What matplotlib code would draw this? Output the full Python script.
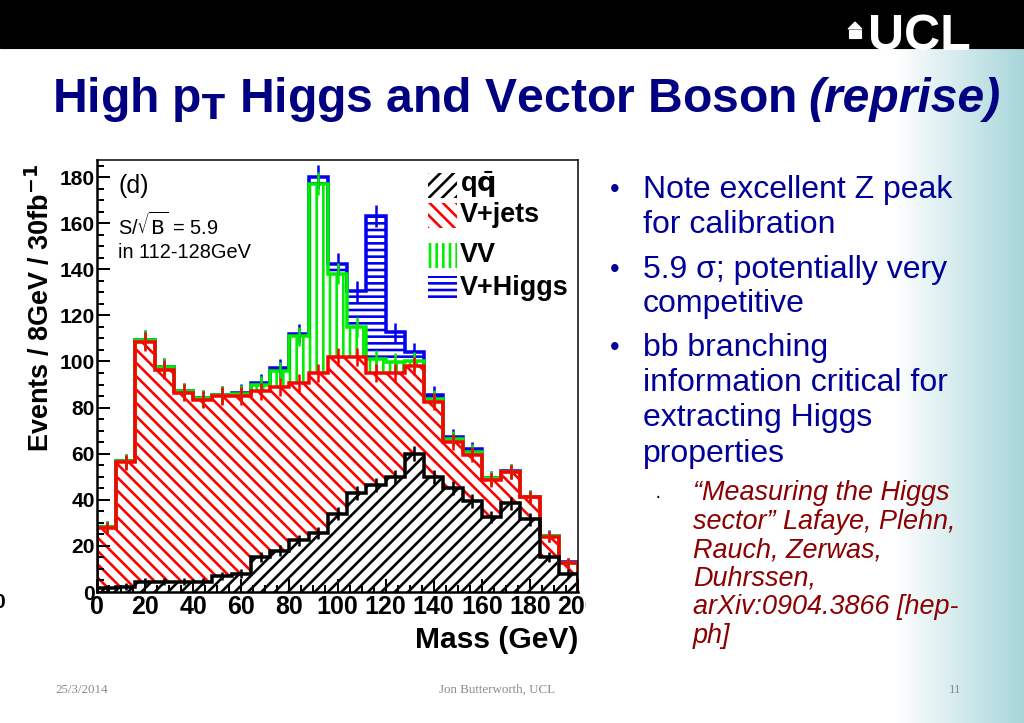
import numpy as np
import matplotlib
matplotlib.use("Agg")
import matplotlib.pyplot as plt
from matplotlib.patches import Rectangle, Polygon
from matplotlib.transforms import Bbox, TransformedBbox, IdentityTransform, blended_transform_factory

DPI = 80
W, H = 1024, 723


def pt(px):
    # pixel size -> points at this dpi
    return px * 72.0 / DPI


# histogram data, 8 GeV bins from 0 to 200 GeV
edges = np.arange(0, 201, 8)
qq = [1.7, 2.3, 4.5, 4.5, 4.5, 4.5, 7, 8, 15, 18, 22.5, 25.5, 34,
      43, 46.5, 50, 60, 50, 45, 39.5, 32.5, 38.5, 31.5, 15, 8]
vjets = [26, 54, 104, 92, 82, 79, 78, 77, 72, 71, 68, 69.5, 68,
         59, 48.5, 45, 38, 32.5, 20, 20, 16, 13.5, 9.5, 9, 4.6]
vv = [0.5, 0.5, 1, 1, 0.5, 0.5, 0.5, 1, 3, 7, 20.5, 82, 36,
      13, 6, 4.6, 2, 1.4, 1.5, 1.4, 0.8, 0.2, 0.2, 0.2, 0.1]
vh = [0, 0, 0, 0, 0, 0, 0, 0.5, 0.5, 1, 1, 3, 4.3,
      15.4, 62, 13, 4, 1.6, 0.9, 1, 0.2, 0.1, 0.1, 0.1, 0.1]
names = ["q$\\bar{\\mathbf{q}}$", "V+jets", "VV", "V+Higgs"]
colors = ["black", "#ff0000", "#00ee00", "#0000ee"]
hatches = ["//", "\\\\", "||", "--"]

bullets = [("Note excellent Z peak", 190, True), ("for calibration", 225, False),
           ("5.9 σ; potentially very", 270, True), ("competitive", 304, False),
           ("bb branching", 348, True), ("information critical for", 383, False),
           ("extracting Higgs", 418, False), ("properties", 454, False)]
refs = ["\u201cMeasuring the Higgs", "sector\u201d Lafaye, Plehn,", "Rauch, Zerwas,",
        "Duhrssen,", "arXiv:0904.3866 [hep-", "ph]"]

plt.rcParams['font.family'] = ['Liberation Sans', 'DejaVu Sans']
plt.rcParams['hatch.linewidth'] = pt(2.6)

fig = plt.figure(figsize=(W / DPI, H / DPI), dpi=DPI)

# slide background
bg = fig.add_axes([0, 0, 1, 1], zorder=0)
bg.set_xlim(0, W)
bg.set_ylim(H, 0)
bg.axis('off')
g = np.linspace(0, 1, 200)
teal = np.array([168, 214, 219]) / 255.0
img = (1 - g)[:, None] * np.ones(3) + g[:, None] * teal
bg.imshow(img[None, :, :], extent=[895, 1024, 723, 48], aspect='auto')
bg.add_patch(Rectangle((0, 0), W, 48, color='black'))

# stacked histogram
ax = fig.add_axes([97 / W, 1 - 592 / H, 481 / W, 432 / H], zorder=2)
stack = np.cumsum([qq, vjets, vv, vh], axis=0)
centers = 0.5 * (edges[1:] + edges[:-1])

for i in [3, 2, 1, 0]:
    ax.stairs(stack[i], edges, baseline=0, fill=True, facecolor='white',
              edgecolor=colors[i], hatch=hatches[i], linewidth=0)
for i in [3, 2, 1, 0]:
    ax.stairs(stack[i], edges, baseline=0, fill=False, color=colors[i], linewidth=pt(3.5))
for i in [3, 2, 1, 0]:
    err = 0.3 * np.sqrt(stack[i]) + 1
    ax.errorbar(centers, stack[i], yerr=err, fmt='none', ecolor=colors[i],
                elinewidth=pt(2.5), capsize=0)

ax.set_xlim(0, 200)
ax.set_ylim(0, 187.4)
ax.set_xticks(np.arange(0, 201, 20))
ax.set_xticks(np.arange(0, 201, 5), minor=True)
ax.set_yticks(np.arange(0, 181, 20))
ax.set_yticks(np.arange(0, 186, 5), minor=True)
ax.tick_params(direction='in', which='both', width=pt(2), top=False, right=False)
ax.tick_params(which='major', length=pt(13))
ax.tick_params(which='minor', length=pt(7))
ax.tick_params(axis='x', labelsize=pt(25), pad=pt(3))
ax.tick_params(axis='y', labelsize=pt(21), pad=pt(2))
for lab in ax.get_xticklabels() + ax.get_yticklabels():
    lab.set_fontweight('bold')
for s in ['left', 'bottom']:
    ax.spines[s].set_linewidth(pt(2.5))
for s in ['top', 'right']:
    ax.spines[s].set_linewidth(pt(1.5))

# overlay for text, pixel coordinates
ov = fig.add_axes([0, 0, 1, 1], zorder=5)
ov.set_xlim(0, W)
ov.set_ylim(H, 0)
ov.axis('off')
ov.patch.set_alpha(0)

clip = TransformedBbox(Bbox.from_extents(0, (H - 665) / DPI, 586 / DPI, (H - 153) / DPI),
                       fig.dpi_scale_trans)

ov.text(40, 452, "Events / 8GeV / 30fb$^{\\mathbf{-1}}$", rotation=90, ha='center',
        va='bottom', fontsize=pt(27), fontweight='bold', clip_box=clip, clip_on=True)
ov.text(578, 640, "Mass (GeV)", ha='right', va='center', fontsize=pt(30), fontweight='bold')
ov.text(-1, 603, "0", ha='center', va='center', fontsize=pt(21), fontweight='bold')

ov.text(118, 186, "(d)", ha='left', va='center', fontsize=pt(25))
ov.text(118, 225, "S/$\\sqrt{\\mathrm{B}}$ = 5.9", ha='left', va='center', fontsize=pt(20))
ov.text(118, 252, "in 112-128GeV", ha='left', va='center', fontsize=pt(20))

# legend
leg_y = [185, 215, 255, 288]
for i in range(4):
    ov.add_patch(Rectangle((428, leg_y[i] - 12), 29, 25, facecolor='white',
                           edgecolor=colors[i], hatch=hatches[i], linewidth=0))
    ov.text(460, leg_y[i], names[i], ha='left', va='center', fontsize=pt(27),
            fontweight='bold')

# title
navy = '#000080'
t1 = ov.text(52, 100, "High p$_{\\mathbf{T}}$ Higgs and Vector Boson", ha='left', va='center',
             fontsize=pt(48), fontweight='bold', color=navy)
fig.canvas.draw()
bb = t1.get_window_extent(fig.canvas.get_renderer())
ov.text(bb.x1 + 13, 100, "(reprise)", ha='left', va='center', fontsize=pt(48),
        fontweight='bold', style='italic', color=navy,
        transform=blended_transform_factory(IdentityTransform(), ov.transData))

# bullets
blue_txt = '#000099'
for txt, y, dot in bullets:
    if dot:
        ov.text(610, y, "•", ha='left', va='center', fontsize=pt(27), color=blue_txt)
    ov.text(643, y, txt, ha='left', va='center', fontsize=pt(32), color=blue_txt)
ov.text(655, 497, "·", ha='left', va='center', fontsize=pt(20), color='black')
for k, txt in enumerate(refs):
    ov.text(693, 493 + k * 28.6, txt, ha='left', va='center', fontsize=pt(27),
            style='italic', color='#8b0000')

# footer
grey = '#8a8a8a'
ov.text(55, 690, "25/3/2014", ha='left', va='center', fontsize=pt(13), color=grey,
        family='Liberation Serif')
ov.text(497, 690, "Jon Butterworth, UCL", ha='center', va='center', fontsize=pt(13),
        color=grey, family='Liberation Serif')
ov.text(955, 690, "11", ha='center', va='center', fontsize=pt(13), color=grey,
        family='Liberation Serif')

# UCL logo
ov.text(868, 50, "UCL", ha='left', va='baseline', fontsize=pt(50), fontweight='bold',
        color='white')
ov.add_patch(Polygon([[848, 29], [855, 22], [862, 29]], closed=True, color='white'))
ov.add_patch(Rectangle((849, 30), 12, 8, color='white'))

fig.canvas.draw()
for lab in ax.get_xticklabels() + ax.get_yticklabels():
    lab.set_clip_box(clip)
    lab.set_clip_on(True)

fig.savefig("out.png", dpi=DPI)
